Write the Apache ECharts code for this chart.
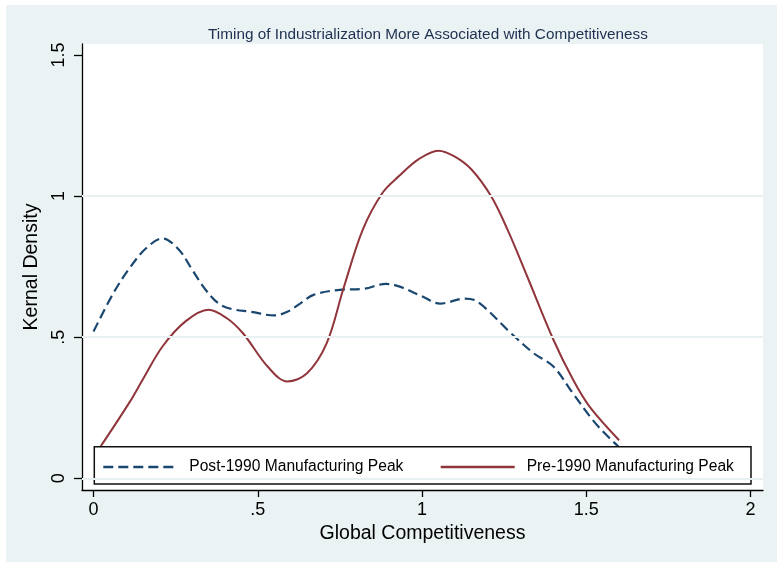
<!DOCTYPE html>
<html>
<head>
<meta charset="utf-8">
<script src="https://cdn.jsdelivr.net/npm/echarts@6/dist/echarts.min.js"></script>
<style>
html,body{margin:0;padding:0;background:#fff;}
#main{width:777px;height:562px;}
</style>
</head>
<body>
<div id="main"></div>
<script>
var titleText = 'Timing of Industrialization More Associated with Competitiveness';
var xTitle = 'Global Competitiveness';
var yTitle = 'Kernal Density';
var xTicks = [0, 0.5, 1, 1.5, 2];
var xTickLabels = ['0', '.5', '1', '1.5', '2'];
var yTicks = [0, 0.5, 1, 1.5];
var yTickLabels = ['0', '.5', '1', '1.5'];
var gridValues = [0, 0.5, 1];
var seriesNames = ['Post-1990 Manufacturing Peak', 'Pre-1990 Manufacturing Peak'];

var postX = [0.00, 0.06, 0.11, 0.16, 0.21, 0.26, 0.30, 0.34, 0.38, 0.42, 0.48, 0.55, 0.59, 0.63, 0.67, 0.75, 0.82, 0.89, 0.93, 1.00, 1.055, 1.13, 1.17, 1.27, 1.34, 1.40, 1.46, 1.52, 1.56, 1.60];
var postY = [0.52, 0.655, 0.745, 0.815, 0.85, 0.81, 0.74, 0.67, 0.62, 0.60, 0.59, 0.577, 0.59, 0.62, 0.65, 0.668, 0.671, 0.689, 0.68, 0.645, 0.619, 0.637, 0.625, 0.515, 0.443, 0.396, 0.30, 0.206, 0.155, 0.11];

var preX = [0.02, 0.11, 0.15, 0.21, 0.28, 0.35, 0.405, 0.455, 0.53, 0.59, 0.65, 0.71, 0.76, 0.82, 0.88, 0.93, 0.99, 1.05, 1.10, 1.15, 1.21, 1.26, 1.32, 1.40, 1.46, 1.51, 1.60];
var preY = [0.11, 0.27, 0.35, 0.467, 0.556, 0.597, 0.568, 0.514, 0.396, 0.343, 0.372, 0.479, 0.669, 0.882, 1.012, 1.071, 1.131, 1.161, 1.14, 1.095, 1.0, 0.882, 0.716, 0.491, 0.349, 0.254, 0.135];

function pairs(xs, ys) { return xs.map(function (x, i) { return [x, ys[i]]; }); }
function lbl(ticks, labels) { return function (v) { for (var i = 0; i < ticks.length; i++) { if (Math.abs(ticks[i] - v) < 1e-6) return labels[i]; } return ''; }; }

var FONT = 'Liberation Sans, Arial, sans-serif';
var chart = echarts.init(document.getElementById('main'), null, {renderer: 'canvas'});
chart.setOption({
  backgroundColor: '#eaf2f3',
  animation: false,
  title: {
    text: titleText,
    left: 423, top: 22, textAlign: 'center',
    textStyle: {fontFamily: FONT, fontSize: 15.3, fontWeight: 'normal', color: '#1e3050'}
  },
  grid: {left: 82, right: 14, top: 44, bottom: 72, show: true, backgroundColor: '#ffffff', borderWidth: 0},
  xAxis: {
    type: 'value', min: -0.035, max: 2.038,
    name: xTitle, nameLocation: 'middle', nameGap: 30,
    nameTextStyle: {fontFamily: FONT, fontSize: 19.5, color: '#000'},
    axisLine: {show: true, onZero: false, lineStyle: {color: '#000', width: 1.3}},
    axisTick: {show: true, length: 7, customValues: xTicks, lineStyle: {color: '#000', width: 1.3}},
    axisLabel: {customValues: xTicks, formatter: lbl(xTicks, xTickLabels), margin: 11, fontFamily: FONT, fontSize: 18, color: '#000'},
    splitLine: {show: false}
  },
  yAxis: {
    type: 'value', min: -0.0415, max: 1.539,
    name: yTitle, nameLocation: 'middle', nameGap: 36, nameRotate: 90,
    nameTextStyle: {fontFamily: FONT, fontSize: 19.5, color: '#000'},
    axisLine: {show: true, onZero: false, lineStyle: {color: '#000', width: 1.3}},
    axisTick: {show: true, length: 8, customValues: yTicks, lineStyle: {color: '#000', width: 1.3}},
    axisLabel: {customValues: yTicks, formatter: lbl(yTicks, yTickLabels), rotate: 90, margin: 14, fontFamily: FONT, fontSize: 18, color: '#000'},
    splitLine: {show: false}
  },
  legend: {
    data: seriesNames,
    left: 102, top: 459, padding: 0, itemGap: 36, itemWidth: 74, itemHeight: 16, z: 4,
    itemStyle: {opacity: 0},
    lineStyle: {opacity: 1, width: 2.6},
    textStyle: {fontFamily: FONT, fontSize: 15.6, color: '#000', padding: [0, 0, 0, 7]}
  },
  graphic: [
    {type: 'rect', left: 0, top: 0, shape: {x: 0, y: 0, width: 777, height: 5}, style: {fill: '#fff'}, z: 0},
    {type: 'rect', left: 0, top: 0, shape: {x: 0, y: 0, width: 6, height: 562}, style: {fill: '#fff'}, z: 0},
    {type: 'rect', shape: {x: 94.3, y: 446.7, width: 656.7, height: 37.3}, style: {fill: '#fff', stroke: '#111', lineWidth: 1.5}, z: 3}
  ],
  series: [
    {
      name: 'grid', type: 'line', data: [], z: 1, silent: true,
      markLine: {silent: true, symbol: 'none', label: {show: false},
        lineStyle: {color: '#e8f0f2', width: 2, type: 'solid'},
        data: gridValues.map(function (v) { return {yAxis: v}; })}
    },
    {
      name: seriesNames[0], type: 'line', data: pairs(postX, postY), z: 2,
      showSymbol: false, symbol: 'none', smooth: 0.35,
      lineStyle: {color: '#1a476f', width: 2.2, type: [10, 5]}, itemStyle: {color: '#1a476f'}
    },
    {
      name: seriesNames[1], type: 'line', data: pairs(preX, preY), z: 2,
      showSymbol: false, symbol: 'none', smooth: 0.35,
      lineStyle: {color: '#90353b', width: 2, type: 'solid'}, itemStyle: {color: '#90353b'}
    }
  ]
});
</script>
</body>
</html>
